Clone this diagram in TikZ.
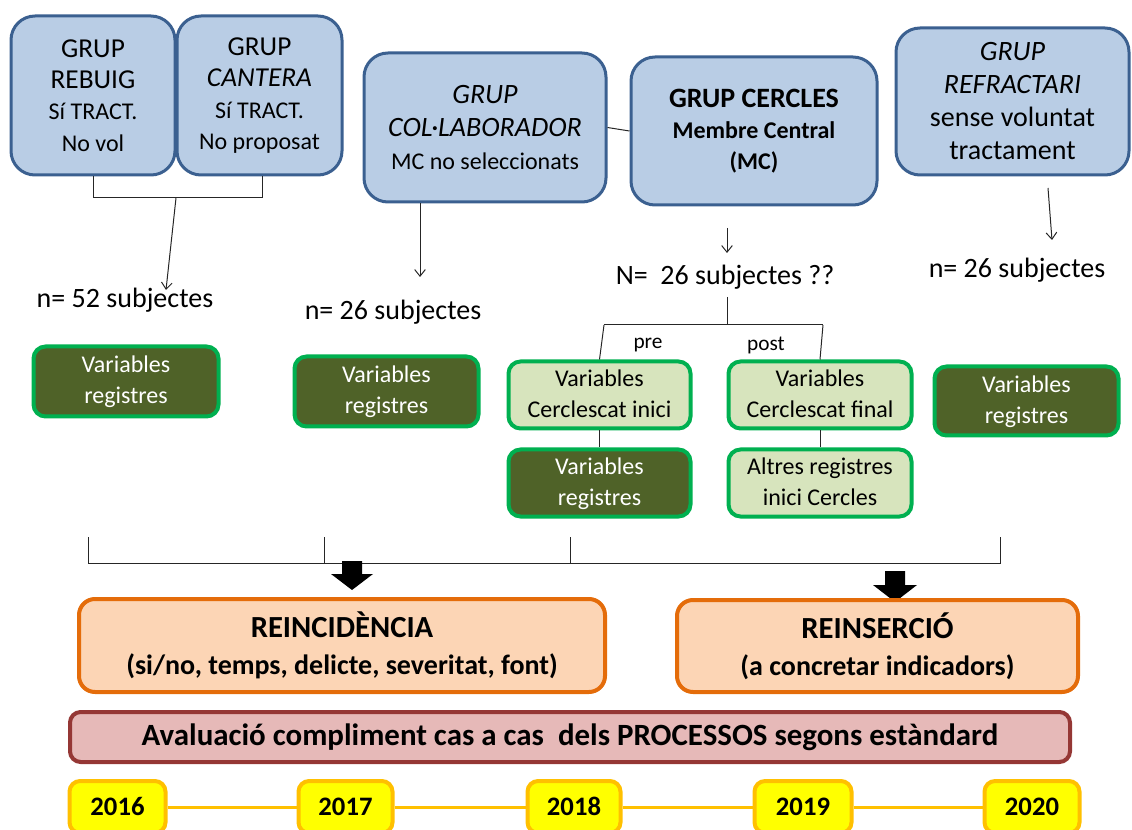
\documentclass[tikz,border=0pt]{standalone}
\usepackage{fontspec}
\setmainfont{Carlito}
\usetikzlibrary{arrows.meta}
\definecolor{bluefill}{HTML}{B9CDE5}
\definecolor{blueline}{HTML}{3B6090}
\definecolor{lgreen}{HTML}{D7E4BD}
\definecolor{gline}{HTML}{00B050}
\definecolor{dgreen}{HTML}{4F6228}
\definecolor{ofill}{HTML}{FCD5B5}
\definecolor{oline}{HTML}{E46C0A}
\definecolor{rfill}{HTML}{E6B9B8}
\definecolor{rline}{HTML}{953735}
\definecolor{yline}{HTML}{FFC000}
\definecolor{yfill}{HTML}{FFFF00}
\definecolor{lnk}{HTML}{262626}
\newcommand\fsz[2]{\fontsize{#1}{#2}\selectfont}
\begin{document}
\begin{tikzpicture}[x=0.75pt,y=-0.75pt,
  wh/.style 2 args={minimum width=#1*0.75pt, minimum height=#2*0.75pt},
  grp/.style={draw=blueline, fill=bluefill, line width=2.25pt, rounded corners=18pt, align=center, inner sep=0pt},
  varbox/.style={draw=gline, line width=3pt, rounded corners=9pt, align=center, inner sep=0pt, font=\fsz{18}{23.25}, text depth=2pt},
  darkbox/.style={varbox, fill=dgreen, text=white},
  lightbox/.style={varbox, fill=lgreen},
  resbox/.style={draw=oline, fill=ofill, line width=3pt, rounded corners=12pt, align=center, inner sep=0pt},
  yearbox/.style={draw=yline, fill=yfill, line width=3pt, rounded corners=8pt, inner sep=0pt, font=\bfseries\fsz{20}{24}, minimum height=52*0.75pt, text height=12.6pt, text depth=0pt},
  lbl/.style={inner sep=0pt, font=\fsz{21}{25}},
  con/.style={draw=lnk, line width=0.75pt},
  arr/.style={con, -{Straight Barb[length=5pt,width=8pt]}}
]
\useasboundingbox (0,0) rectangle (1132,830);
\clip (0,0) rectangle (1132,830);

% group boxes
\node[grp, wh={164}{159}, font=\fsz{20.5}{23.5}] (rebuig) at (93,95.5)
  {GRUP\\REBUIG\\\fsz{18}{23.5}Sí TRACT.\\\fsz{18}{23.5}No vol};
\node[grp, wh={165}{159}, font=\fsz{20.5}{23.5}] (cantera) at (259.5,95.5)
  {GRUP\\\textit{CANTERA}\\\fsz{18}{23.5}Sí TRACT.\\\fsz{18}{23.5}No proposat};
\node[grp, wh={242}{149}, font=\fsz{21}{24.75}] (collab) at (485,127.5)
  {\textit{GRUP}\\\textit{COL·LABORADOR}\\\fsz{18}{24.75}MC no seleccionats};
\node[grp, wh={246}{148}, font=\bfseries\fsz{21}{23}] (cercles) at (754,131)
  {GRUP CERCLES\\\fsz{18}{23}Membre Central\\\fsz{18}{23}(MC)};
\node[grp, wh={233}{147}, font=\fsz{21}{24.75}] (refract) at (1012.5,101.5)
  {\textit{GRUP}\\\textit{REFRACTARI}\\sense voluntat\\tractament};

% subject counts
\node[lbl] (n52) at (125,300) {n= 52 subjectes};
\node[lbl] (n26a) at (393,312) {n= 26 subjectes};
\node[lbl] (n26c) at (725,277) {N=\ \ 26 subjectes ??};
\node[lbl] (n26b) at (1017,270) {n= 26 subjectes};

% variable boxes
\node[darkbox, wh={185}{70}] (var1) at (126,381.5) {Variables\\registres};
\node[darkbox, wh={184}{70}] (var2) at (386.5,391.5) {Variables\\registres};
\node[darkbox, wh={184}{69}] (var3) at (1026.5,401) {Variables\\registres};
\node[lightbox, wh={182}{67}] (inici) at (599.5,395) {Variables\\Cerclescat inici};
\node[lightbox, wh={183}{67}] (final) at (820,395) {Variables\\Cerclescat final};
\node[darkbox, wh={182}{67}] (regc) at (599.5,483) {Variables\\registres};
\node[lightbox, wh={183}{67}] (altres) at (820,483) {Altres registres\\inici Cercles};

% connectors top
\draw[con] (collab.east) -- (cercles.west);
\coordinate (b1) at (93,198);
\coordinate (b2) at (262,198);
\coordinate (j1) at (176,198);
\coordinate (t1) at (166,290);
\draw[con] (rebuig.south -| b1) -- (b1) -- (b2) -- (cantera.south -| b2);
\draw[arr] (j1) -- (t1);
\coordinate (c1) at (420,203);
\coordinate (t2) at (420,277);
\draw[arr] (c1) -- (t2);
\coordinate (c2) at (727,228);
\coordinate (t3) at (727,253);
\draw[arr] (c2) -- (t3);
\coordinate (c3) at (1048,188);
\coordinate (t4) at (1052,240);
\draw[arr] (c3) -- (t4);

% pre / post split
\coordinate (s0) at (727,297);
\coordinate (s1) at (727,325);
\coordinate (sl) at (604,325);
\coordinate (sr) at (823,325);
\draw[con] (s0) -- (s1);
\draw[con] (sl) -- (sr);
\draw[con] (sl) -- (inici.north);
\draw[con] (sr) -- (final.north);
\node[inner sep=0pt, font=\fsz{16}{19}] (pre) at (648,345) {pre};
\node[inner sep=0pt, font=\fsz{16}{19}] (post) at (766,345) {post};
\draw[con] (inici.south) -- (regc.north);
\draw[con] (final.south) -- (altres.north);

% bottom bracket
\coordinate (k1) at (88,537);
\coordinate (k2) at (324,537);
\coordinate (k3) at (570,537);
\coordinate (k4) at (1000,537);
\coordinate (h1) at (88,563);
\coordinate (h4) at (1000,563);
\draw[con] (k1) -- (h1) -- (h4) -- (k4);
\draw[con] (k2) -- (k2 |- h1);
\draw[con] (k3) -- (k3 |- h1);

% block arrows
\fill[black] (342,561) -- (362,561) -- (362,574) -- (373,574) -- (352,590) -- (331,574) -- (342,574) -- cycle;
\fill[black] (885,571) -- (905,571) -- (905,585) -- (917,585) -- (895,602) -- (873,585) -- (885,585) -- cycle;

% result boxes
\node[resbox, wh={526}{93}, font=\bfseries\fsz{23}{27.75}] (reinc) at (342,645.5)
  {REINCIDÈNCIA\\\fsz{21}{27.75}(si/no, temps, delicte, severitat, font)};
\node[resbox, wh={401}{92}, font=\bfseries\fsz{23}{27.75}] (reins) at (877.5,646)
  {REINSERCIÓ\\\fsz{21}{27.75}(a concretar indicadors)};

% process evaluation
\node[draw=rline, fill=rfill, line width=3pt, rounded corners=8pt, inner sep=0pt, wh={1000}{50},
      font=\bfseries\fsz{23.2}{26}] (aval) at (570,737)
  {Avaluació compliment cas a cas\ \ dels PROCESSOS segons estàndard};

% timeline
\node[yearbox, minimum width=96*0.75pt] (y16) at (117.5,807) {2016};
\node[yearbox, minimum width=94*0.75pt] (y17) at (345.5,807) {2017};
\node[yearbox, minimum width=93*0.75pt] (y18) at (574,807) {2018};
\node[yearbox, minimum width=97*0.75pt] (y19) at (803,807) {2019};
\node[yearbox, minimum width=95*0.75pt] (y20) at (1032,807) {2020};
\draw[yline, line width=2.25pt] (y16.east) -- (y17.west);
\draw[yline, line width=2.25pt] (y17.east) -- (y18.west);
\draw[yline, line width=2.25pt] (y18.east) -- (y19.west);
\draw[yline, line width=2.25pt] (y19.east) -- (y20.west);
\end{tikzpicture}
\end{document}
